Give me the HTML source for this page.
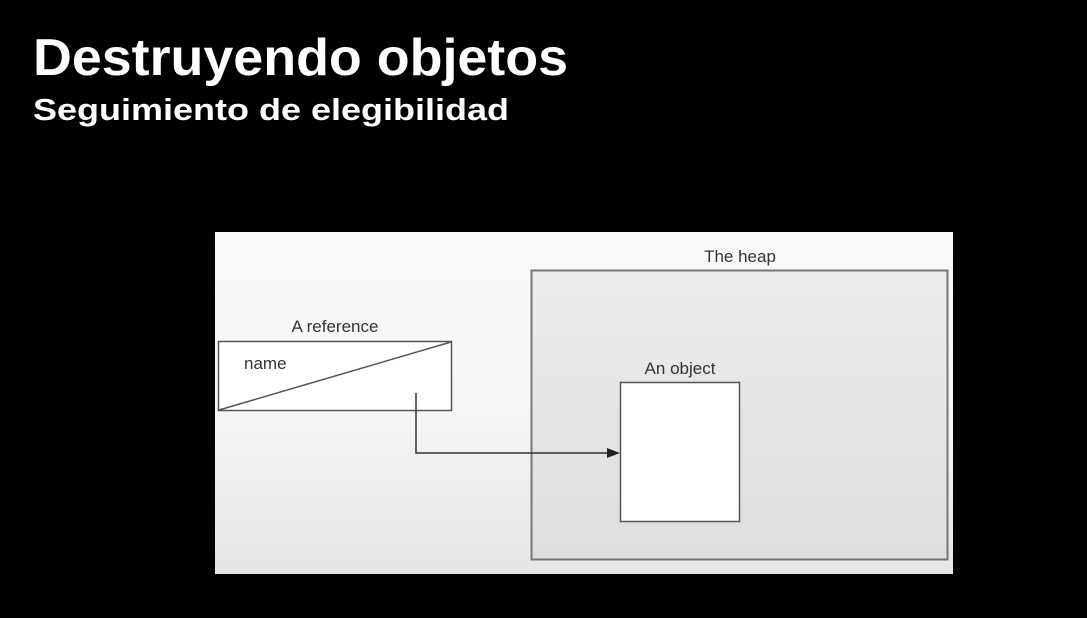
<!DOCTYPE html>
<html><head><style>body{margin:0;background:#000;width:1087px;height:613px;overflow:hidden}</style></head>
<body>
<svg width="1087" height="613" xmlns="http://www.w3.org/2000/svg" font-family="Liberation Sans, sans-serif">
<defs>
<linearGradient id="g" x1="0" y1="0" x2="0" y2="1">
<stop offset="0" stop-color="#fafafa"/><stop offset="0.5" stop-color="#f6f6f6"/><stop offset="1" stop-color="#e6e6e8"/>
</linearGradient>
<linearGradient id="h" x1="0" y1="0" x2="0" y2="1">
<stop offset="0" stop-color="#ececee"/><stop offset="1" stop-color="#dedee0"/>
</linearGradient>
</defs>
<rect width="1087" height="613" fill="#000"/>
<text x="33" y="75" fill="#fff" font-weight="bold" font-size="52" textLength="535" lengthAdjust="spacingAndGlyphs">Destruyendo objetos</text>
<text x="33" y="120" fill="#fff" font-weight="bold" font-size="31" textLength="476" lengthAdjust="spacingAndGlyphs">Seguimiento de elegibilidad</text>
<rect x="215" y="232" width="738" height="342" fill="url(#g)"/>
<rect x="531.5" y="270.5" width="416" height="289" fill="url(#h)" stroke="#777" stroke-width="2"/>
<rect x="620.5" y="382.5" width="119" height="139" fill="#fff" stroke="#555" stroke-width="1.5"/>
<rect x="218.5" y="341.5" width="233" height="69" fill="#fff" stroke="#555" stroke-width="1.5"/>
<line x1="219" y1="410" x2="451" y2="342" stroke="#555" stroke-width="1.5"/>
<polyline points="416,393 416,453 610,453" fill="none" stroke="#333" stroke-width="1.5"/>
<polygon points="620,453 607,448 607,458" fill="#222"/>
<g fill="#333" font-size="17">
<text x="335" y="332" text-anchor="middle">A reference</text>
<text x="244" y="369">name</text>
<text x="740" y="262" text-anchor="middle">The heap</text>
<text x="680" y="374" text-anchor="middle">An object</text>
</g>
</svg>
</body></html>
